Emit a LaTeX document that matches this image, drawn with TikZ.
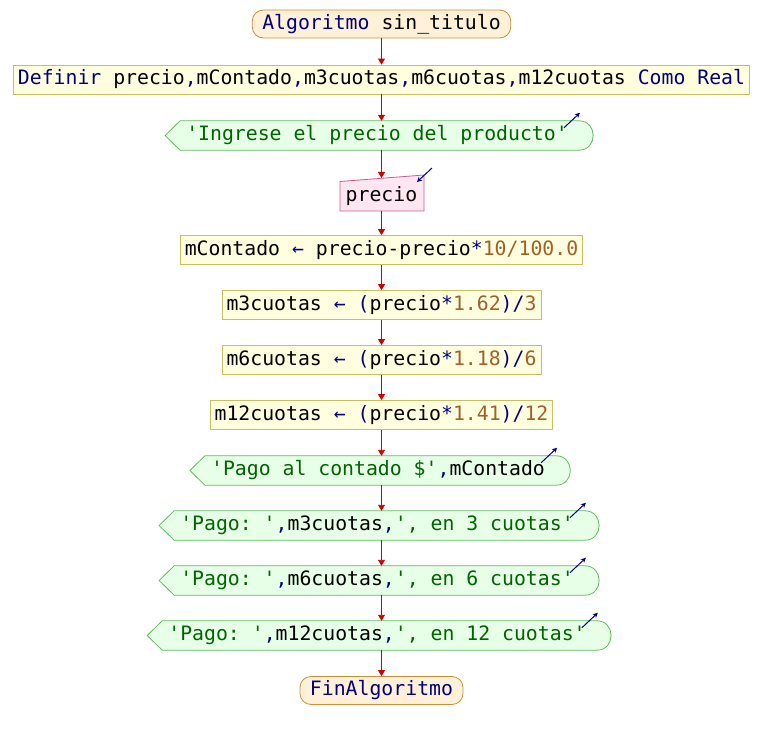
\documentclass[tikz,border=0pt]{standalone}
\usepackage{fontspec}
\setmonofont{DejaVu Sans Mono}
\usetikzlibrary{arrows.meta,calc}
\definecolor{kwc}{HTML}{000080}
\definecolor{strc}{HTML}{006400}
\definecolor{numc}{HTML}{A0602A}
\definecolor{startfill}{HTML}{FFF0D8}
\definecolor{startdraw}{HTML}{C8903C}
\definecolor{rectfill}{HTML}{FFFFE0}
\definecolor{rectdraw}{HTML}{C8C060}
\definecolor{outfill}{HTML}{E6FFE6}
\definecolor{outdraw}{HTML}{60BB60}
\definecolor{infill}{HTML}{FFE6F0}
\definecolor{indraw}{HTML}{C06090}
\definecolor{flowc}{HTML}{D00000}
\newcommand{\kw}[1]{\textcolor{kwc}{#1}}
\newcommand{\st}[1]{\textcolor{strc}{#1}}
\newcommand{\nm}[1]{\textcolor{numc}{#1}}
\newcommand{\outshape}[1]{%
  \draw[outdraw,fill=outfill,line width=0.8pt]
    ($(#1.west)+(-21pt,0)$) -- ($(#1.north west)+(-6pt,0)$)
    -- ($(#1.north east)+(11pt,0)$)
    .. controls ($(#1.north east)+(30pt,0)$) and ($(#1.south east)+(30pt,0)$) .. ($(#1.south east)+(11pt,0)$)
    -- ($(#1.south west)+(-6pt,0)$) -- cycle;
  \node[txt] at (#1) {\csname txt#1\endcsname};
  \draw[kwc,line width=1pt,-{Stealth[length=5pt,width=5pt]}] ($(#1.north east)+(-4pt,-7pt)$) -- ($(#1.north east)+(12pt,8pt)$);}
\begin{document}
\begin{tikzpicture}[x=1pt,y=-1pt,
  txt/.style={font=\ttfamily\fontsize{19.8}{22}\selectfont,inner sep=0pt,text height=14.5pt,text depth=4pt},
  startbox/.style={txt,draw=startdraw,fill=startfill,line width=0.8pt,rounded corners=11pt,minimum height=28pt,inner xsep=10pt},
  procbox/.style={txt,draw=rectdraw,fill=rectfill,line width=0.8pt,minimum height=29pt,inner xsep=4.5pt},
  outtxt/.style={txt,minimum height=29pt},
  flow/.style={flowc,line width=0.9pt,-{Triangle[length=6pt,width=7pt]}}]
\useasboundingbox (0,0) rectangle (764,741);
\node[startbox] (s) at (381.5,24) {\kw{Algoritmo} sin\_titulo};
\node[procbox] (d) at (381.5,79.5) {\kw{Definir} precio\kw{,}mContado\kw{,}m3cuotas\kw{,}m6cuotas\kw{,}m12cuotas \kw{Como Real}};
\expandafter\def\csname txto1\endcsname{\st{'Ingrese el precio del producto'}}
\node[outtxt] (o1) at (377,135.5) {\phantom{'Ingrese el precio del producto'}};
\outshape{o1}
% input
\draw[indraw,fill=infill,line width=0.8pt] (340,181.5) -- (424,175) -- (424,211) -- (340,211) -- cycle;
\node[txt] (in) at (381.5,196) {precio};
\coordinate (intop) at (381.5,178);
\coordinate (inbot) at (381.5,211);
\draw[kwc,line width=1pt,-{Stealth[length=5pt,width=5pt]}] (432,168) -- (417,182);
\node[procbox] (a1) at (381.5,250) {mContado \kw{←} precio-precio\kw{*}\nm{10/100.0}};
\node[procbox] (a2) at (381.5,305) {m3cuotas \kw{←} \kw{(}precio\kw{*}\nm{1.62}\kw{)/}\nm{3}};
\node[procbox] (a3) at (381.5,360) {m6cuotas \kw{←} \kw{(}precio\kw{*}\nm{1.18}\kw{)/}\nm{6}};
\node[procbox] (a4) at (381.5,415) {m12cuotas \kw{←} \kw{(}precio\kw{*}\nm{1.41}\kw{)/}\nm{12}};
\expandafter\def\csname txto2\endcsname{\st{'Pago al contado \$'}\kw{,}mContado}
\node[outtxt] (o2) at (378,470.5) {\phantom{'Pago al contado \$',mContado}};
\outshape{o2}
\expandafter\def\csname txto3\endcsname{\st{'Pago: '}\kw{,}m3cuotas\kw{,}\st{', en 3 cuotas'}}
\node[outtxt] (o3) at (377,525.5) {\phantom{'Pago: ',m3cuotas,', en 3 cuotas'}};
\outshape{o3}
\expandafter\def\csname txto4\endcsname{\st{'Pago: '}\kw{,}m6cuotas\kw{,}\st{', en 6 cuotas'}}
\node[outtxt] (o4) at (377,580.5) {\phantom{'Pago: ',m6cuotas,', en 6 cuotas'}};
\outshape{o4}
\expandafter\def\csname txto5\endcsname{\st{'Pago: '}\kw{,}m12cuotas\kw{,}\st{', en 12 cuotas'}}
\node[outtxt] (o5) at (377,635.5) {\phantom{'Pago: ',m12cuotas,', en 12 cuotas'}};
\outshape{o5}
\node[startbox] (f) at (381.5,690.5) {\kw{FinAlgoritmo}};
\draw[flow] (s.south) -- (d.north);
\draw[flow] (d.south) -- (d.south |- o1.north);
\draw[flow] (o1.south -| in) -- (intop);
\draw[flow] (inbot) -- (a1.north);
\draw[flow] (a1.south) -- (a2.north);
\draw[flow] (a2.south) -- (a3.north);
\draw[flow] (a3.south) -- (a4.north);
\draw[flow] (a4.south) -- (a4.south |- o2.north);
\draw[flow] (o2.south -| a4) -- (o3.north -| a4);
\draw[flow] (o3.south -| a4) -- (o4.north -| a4);
\draw[flow] (o4.south -| a4) -- (o5.north -| a4);
\draw[flow] (o5.south -| a4) -- (f.north);
\end{tikzpicture}
\end{document}
